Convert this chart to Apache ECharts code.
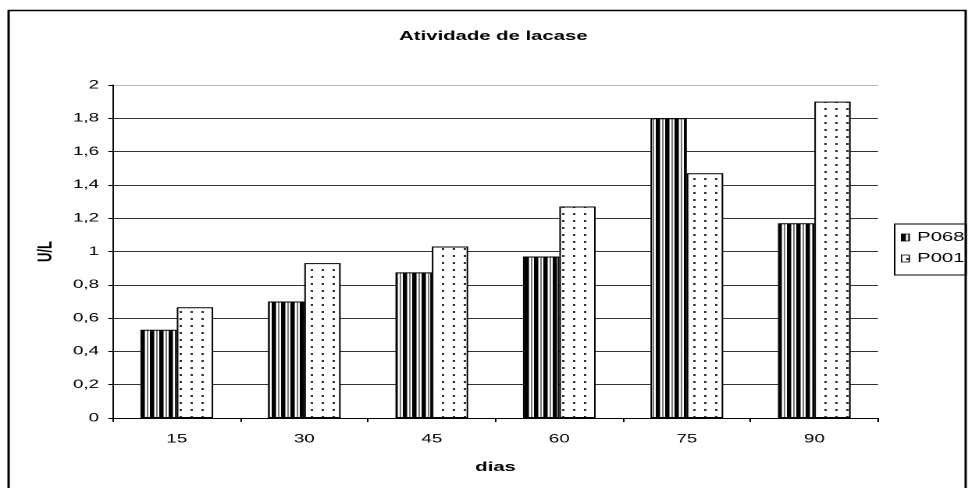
<!DOCTYPE html>
<html>
<head>
<meta charset="utf-8">
<script src="https://cdn.jsdelivr.net/npm/echarts@6/dist/echarts.min.js"></script>
<style>
  html, body { margin: 0; padding: 0; background: #fff; overflow: hidden; }
  /* o gráfico original foi esticado na horizontal: desenha-se estreito e estica-se */
  #chart { width: 620px; height: 488px; transform: scaleX(1.5613); transform-origin: 0 0; }
</style>
</head>
<body>
<div id="chart"></div>
<script>
// dados do gráfico
const dias = ['15', '30', '45', '60', '75', '90'];
const p068 = [0.53, 0.70, 0.875, 0.97, 1.80, 1.17];
const p001 = [0.665, 0.93, 1.03, 1.27, 1.47, 1.90];
const yTicks = [0, 0.2, 0.4, 0.6, 0.8, 1, 1.2, 1.4, 1.6, 1.8, 2];

// padrões de preenchimento (listras e pontos), desenhados a 2x
function stripePattern() {
    const c = document.createElement('canvas');
    c.width = 12; c.height = 4;
    const ctx = c.getContext('2d');
    ctx.fillStyle = '#fff';
    ctx.fillRect(0, 0, 12, 4);
    ctx.fillStyle = '#000';
    ctx.fillRect(0, 0, 5, 4);
    ctx.fillStyle = '#777';
    ctx.fillRect(5, 0, 1, 4);
    ctx.fillRect(8, 0, 2, 4);
    return c;
}
function dotPattern() {
    const c = document.createElement('canvas');
    c.width = 14; c.height = 14;
    const ctx = c.getContext('2d');
    ctx.fillStyle = '#fff';
    ctx.fillRect(0, 0, 14, 14);
    ctx.fillStyle = '#333';
    ctx.fillRect(6, 6, 3, 4);
    return c;
}

const chart = echarts.init(document.getElementById('chart'), null, { renderer: 'canvas', devicePixelRatio: 2 });
const font = 'Liberation Sans, Arial, sans-serif';
const gridColors = yTicks.map((v, i) => i === yTicks.length - 1 ? '#b4b4b4' : '#333');

chart.setOption({
    backgroundColor: '#fff',
    animation: false,
    textStyle: { fontFamily: font },
    graphic: [{
        type: 'rect',
        shape: { x: 5.5, y: 10.5, width: 613, height: 500 },
        style: { fill: 'none', stroke: '#000', lineWidth: 1.5 },
        silent: true
    }],
    title: {
        text: 'Atividade de lacase',
        left: 311,
        top: 25,
        textAlign: 'center',
        textStyle: { fontSize: 13, fontWeight: 'bold', color: '#000', fontFamily: font }
    },
    legend: {
        orient: 'vertical',
        left: 573,
        top: 224,
        itemWidth: 5,
        itemHeight: 7,
        itemGap: 8,
        padding: [7, 1, 10, 4],
        borderColor: '#000',
        borderWidth: 1,
        icon: 'rect',
        itemStyle: { borderColor: '#000', borderWidth: 0.8 },
        textStyle: { fontSize: 13, color: '#000', fontFamily: font },
        data: ['P068', 'P001']
    },
    grid: { left: 72.4, right: 57.6, top: 85, bottom: 70 },
    xAxis: {
        type: 'category',
        data: dias,
        name: 'dias',
        nameLocation: 'middle',
        nameGap: 43,
        nameTextStyle: { fontSize: 13, fontWeight: 'bold', color: '#000' },
        axisLine: { lineStyle: { color: '#000', width: 1 } },
        axisTick: { show: true, length: 4, alignWithLabel: false, lineStyle: { color: '#000' } },
        axisLabel: { fontSize: 12, color: '#000', margin: 15 }
    },
    yAxis: {
        type: 'value',
        min: 0,
        max: 2,
        interval: 0.2,
        name: 'U/L',
        nameLocation: 'middle',
        nameRotate: 90,
        nameGap: 26,
        nameTextStyle: { fontSize: 13, fontWeight: 'bold', color: '#000' },
        axisLine: { show: true, lineStyle: { color: '#000', width: 1 } },
        axisTick: { show: true, length: 3, lineStyle: { color: '#000' } },
        axisLabel: {
            fontSize: 12, color: '#000', margin: 9,
            formatter: v => String(+v.toFixed(1)).replace('.', ',')
        },
        splitLine: { show: true, lineStyle: { color: gridColors, width: 1 } }
    },
    series: [
        {
            name: 'P068',
            type: 'bar',
            data: p068,
            barGap: '0%',
            barCategoryGap: '43%',
            itemStyle: {
                color: { image: stripePattern(), repeat: 'repeat', scaleX: 0.5, scaleY: 0.5 },
                borderColor: '#000',
                borderWidth: 1
            }
        },
        {
            name: 'P001',
            type: 'bar',
            data: p001,
            barGap: '0%',
            barCategoryGap: '43%',
            itemStyle: {
                color: { image: dotPattern(), repeat: 'repeat', scaleX: 0.5, scaleY: 0.5 },
                borderColor: '#000',
                borderWidth: 1
            }
        }
    ]
});
</script>
</body>
</html>
